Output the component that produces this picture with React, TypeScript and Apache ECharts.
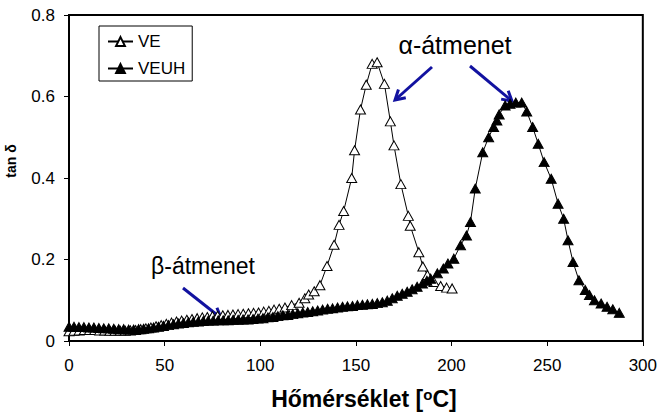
import React, { useEffect, useRef } from "react";
import * as echarts from "echarts";

// Temperature axis ticks (°C) and tan δ ticks
const tempTicks = [0, 50, 100, 150, 200, 250, 300];
const tanTicks = [0, 0.2, 0.4, 0.6, 0.8];

// VE: unmodified resin
const veTemp = [
  0.0, 2.6, 5.3, 8.0, 10.7, 13.4, 16.0, 18.7, 21.4, 24.1, 26.8, 29.4, 32.1, 34.8, 37.5, 40.2,
  42.8, 45.5, 48.2, 50.9, 53.6, 56.2, 58.9, 61.6, 64.3, 67.0, 69.7, 72.3, 75.0, 77.7, 80.4,
  83.1, 85.7, 88.4, 91.1, 93.8, 96.5, 99.1, 101.8, 104.5, 107.2, 109.9, 112.9, 116.4, 120.3,
  123.3, 125.3, 128.2, 131.2, 134.9, 138.6, 141.2, 143.6, 147.8, 149.3, 152.4, 155.4, 158.5,
  161.1, 164.9, 168.0, 169.9, 173.5, 177.4, 178.4, 182.9, 185.0, 187.4, 190.8, 194.3, 197.4,
  200.3,
];
const veTan = [
  0.024, 0.025, 0.026, 0.027, 0.027, 0.027, 0.026, 0.026, 0.025, 0.025, 0.025, 0.025, 0.026,
  0.027, 0.029, 0.031, 0.033, 0.036, 0.039, 0.042, 0.045, 0.048, 0.05, 0.052, 0.054, 0.056,
  0.058, 0.059, 0.061, 0.062, 0.063, 0.064, 0.065, 0.066, 0.067, 0.068, 0.069, 0.07, 0.072,
  0.074, 0.077, 0.079, 0.082, 0.088, 0.094, 0.105, 0.114, 0.122, 0.137, 0.184, 0.236, 0.285,
  0.319, 0.4, 0.468, 0.568, 0.629, 0.68, 0.684, 0.631, 0.539, 0.48, 0.385, 0.307, 0.283, 0.218,
  0.183, 0.162, 0.145, 0.135, 0.131, 0.129,
];

// VEUH: modified resin
const veuhTemp = [
  0.0, 2.6, 5.2, 7.8, 10.4, 13.0, 15.6, 18.2, 20.8, 23.4, 26.0, 28.6, 31.2, 33.8, 36.4, 39.0,
  41.6, 44.2, 46.8, 49.4, 52.0, 54.6, 57.2, 59.8, 62.4, 65.0, 67.6, 70.2, 72.8, 75.4, 78.0,
  80.6, 83.2, 85.8, 88.4, 91.0, 93.6, 96.2, 98.8, 101.4, 104.0, 106.6, 109.2, 111.8, 114.4,
  117.0, 119.6, 122.2, 124.8, 127.4, 130.0, 132.6, 135.2, 137.8, 140.4, 143.0, 145.6, 148.2,
  150.8, 153.4, 156.0, 158.6, 161.2, 163.8, 166.4, 169.0, 171.6, 174.2, 176.8, 179.4, 182.0,
  184.8, 187.1, 189.1, 192.6, 195.7, 198.1, 201.2, 204.7, 207.8, 209.9, 212.4, 216.3, 219.4,
  222.0, 223.7, 224.9, 228.0, 230.6, 233.6, 236.7, 239.3, 242.4, 245.3, 248.4, 252.1, 255.7,
  258.6, 260.9, 263.5, 266.6, 269.9, 272.1, 274.7, 278.2, 281.3, 284.3, 287.7,
];
const veuhTan = [
  0.035, 0.035, 0.034, 0.034, 0.033, 0.033, 0.032, 0.031, 0.031, 0.03, 0.029, 0.029, 0.028,
  0.028, 0.029, 0.03, 0.031, 0.033, 0.035, 0.037, 0.039, 0.041, 0.043, 0.044, 0.046, 0.047,
  0.048, 0.049, 0.05, 0.05, 0.051, 0.051, 0.051, 0.052, 0.052, 0.053, 0.053, 0.054, 0.055,
  0.056, 0.058, 0.059, 0.061, 0.063, 0.064, 0.066, 0.068, 0.07, 0.071, 0.073, 0.075, 0.077,
  0.079, 0.08, 0.082, 0.084, 0.085, 0.086, 0.088, 0.089, 0.09, 0.091, 0.093, 0.095, 0.099,
  0.105, 0.111, 0.116, 0.121, 0.127, 0.133, 0.141, 0.148, 0.153, 0.166, 0.178, 0.19, 0.202,
  0.235, 0.259, 0.292, 0.374, 0.463, 0.5, 0.525, 0.541, 0.556, 0.578, 0.582, 0.585, 0.585,
  0.563, 0.525, 0.484, 0.439, 0.398, 0.337, 0.3, 0.247, 0.194, 0.149, 0.125, 0.113, 0.1,
  0.092, 0.084, 0.078, 0.069,
];

const FONT = '"Liberation Sans", Arial, sans-serif';
const ARROW = "#1212a0";

// Straight arrow with an open V-shaped head at (x2, y2)
function arrow(x1: number, y1: number, x2: number, y2: number) {
  const len = Math.hypot(x2 - x1, y2 - y1);
  const ux = (x2 - x1) / len;
  const uy = (y2 - y1) / len;
  const head = 11;
  const a = Math.PI / 6;
  const rot = (t: number) => [ux * Math.cos(t) - uy * Math.sin(t), ux * Math.sin(t) + uy * Math.cos(t)];
  const [ax, ay] = rot(a);
  const [bx, by] = rot(-a);
  return [
    { type: "line", shape: { x1, y1, x2, y2 }, style: { stroke: ARROW, lineWidth: 3 } },
    {
      type: "polyline",
      shape: {
        points: [
          [x2 - head * ax, y2 - head * ay],
          [x2, y2],
          [x2 - head * bx, y2 - head * by],
        ],
      },
      style: { stroke: ARROW, lineWidth: 3, fill: null },
    },
  ];
}

export default function App() {
  const ref = useRef<HTMLDivElement>(null);

  useEffect(() => {
    if (!ref.current) return;
    const chart = echarts.init(ref.current, null, { renderer: "svg" });
    const tickStep = (t: number[]) => t[1] - t[0];

    chart.setOption({
      animation: false,
      backgroundColor: "#fff",
      textStyle: { fontFamily: FONT },
      grid: {
        left: 69,
        right: 13,
        top: 15,
        bottom: 75,
        show: true,
        borderColor: "#000",
        borderWidth: 2,
      },
      legend: {
        data: ["VE", "VEUH"],
        orient: "vertical",
        left: 99,
        top: 26,
        padding: [7, 7, 4, 8],
        itemGap: 10,
        itemWidth: 25,
        itemHeight: 11,
        backgroundColor: "#fff",
        borderColor: "#000",
        borderWidth: 1,
        borderRadius: 0,
        textStyle: { fontSize: 17, color: "#000", fontFamily: FONT },
      },
      xAxis: {
        type: "value",
        min: tempTicks[0],
        max: tempTicks[tempTicks.length - 1],
        interval: tickStep(tempTicks),
        axisLine: { show: true, lineStyle: { color: "#000", width: 2 } },
        axisTick: { show: true, length: 5, lineStyle: { color: "#000", width: 1 } },
        splitLine: { show: false },
        axisLabel: { fontSize: 17, color: "#000", margin: 16, fontFamily: FONT },
        name: "{m|Hőmérséklet [}{s|o}{m|C]}",
        nameLocation: "middle",
        nameGap: 46,
        nameTextStyle: {
          padding: [0, 0, 0, 16],
          rich: {
            m: { fontSize: 23, fontWeight: "bold", color: "#000", fontFamily: FONT },
            s: { fontSize: 15, fontWeight: "bold", color: "#000", fontFamily: FONT, verticalAlign: "top" },
          },
        },
      },
      yAxis: {
        type: "value",
        min: tanTicks[0],
        max: tanTicks[tanTicks.length - 1],
        interval: tickStep(tanTicks),
        axisLine: { show: true, lineStyle: { color: "#000", width: 2 } },
        axisTick: { show: true, length: 5, lineStyle: { color: "#000", width: 1 } },
        splitLine: { show: false },
        axisLabel: { fontSize: 17, color: "#000", margin: 14, fontFamily: FONT },
      },
      graphic: [
        {
          type: "text",
          x: 11,
          y: 161,
          rotation: Math.PI / 2,
          style: {
            text: "tan δ",
            fontSize: 14,
            fontWeight: "bold",
            fontFamily: FONT,
            fill: "#000",
            align: "center",
            verticalAlign: "middle",
          },
        },
        {
          type: "text",
          x: 455,
          y: 45,
          style: {
            text: "α-átmenet",
            fontSize: 25,
            fontFamily: FONT,
            fill: "#000",
            align: "center",
            verticalAlign: "middle",
          },
        },
        {
          type: "text",
          x: 203,
          y: 266,
          style: {
            text: "β-átmenet",
            fontSize: 23,
            fontFamily: FONT,
            fill: "#000",
            align: "center",
            verticalAlign: "middle",
          },
        },
        ...arrow(432, 67, 395, 100),
        ...arrow(470, 66, 512, 101),
        ...arrow(183, 288, 221, 318),
      ],
      series: [
        {
          name: "VE",
          type: "line",
          data: veTemp.map((t, i) => [t, veTan[i]]),
          symbol: "triangle",
          symbolSize: [10, 9],
          showSymbol: true,
          showAllSymbol: true,
          itemStyle: { color: "#fff", borderColor: "#000", borderWidth: 1 },
          lineStyle: { color: "#000", width: 1 },
          z: 2,
        },
        {
          name: "VEUH",
          type: "line",
          data: veuhTemp.map((t, i) => [t, veuhTan[i]]),
          symbol: "triangle",
          symbolSize: [10, 9],
          showSymbol: true,
          showAllSymbol: true,
          itemStyle: { color: "#000", borderColor: "#000", borderWidth: 1 },
          lineStyle: { color: "#000", width: 1 },
          z: 3,
        },
      ],
    });

    return () => chart.dispose();
  }, []);

  return (
    <div
      ref={ref}
      style={{ position: "fixed", left: 0, top: 0, width: 660, height: 416, background: "#fff" }}
    />
  );
}
